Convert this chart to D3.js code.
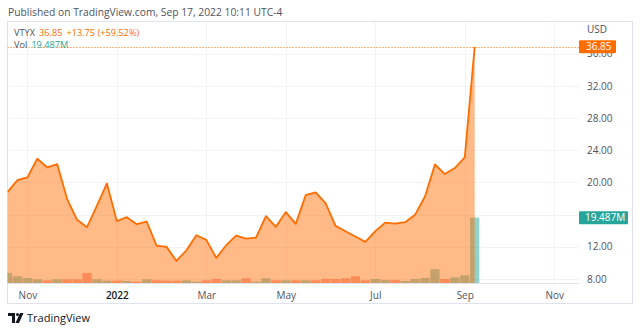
<!DOCTYPE html>
<html>
<head>
<meta charset="utf-8">
<script src="https://cdn.jsdelivr.net/npm/d3@7"></script>
<style>
  html, body { margin: 0; padding: 0; background: #ffffff; }
  svg { display: block; font-family: "Open Sans", "Noto Sans", sans-serif; }
</style>
</head>
<body>
<div id="chart"></div>
<script>
// weekly bars for VTYX
const dates = [
  "2021-10-18", "2021-10-25", "2021-11-01", "2021-11-08", "2021-11-15", "2021-11-22", "2021-11-29",
  "2021-12-06", "2021-12-13", "2021-12-20", "2021-12-27", "2022-01-03", "2022-01-10", "2022-01-17",
  "2022-01-24", "2022-01-31", "2022-02-07", "2022-02-14", "2022-02-21", "2022-02-28", "2022-03-07",
  "2022-03-14", "2022-03-21", "2022-03-28", "2022-04-04", "2022-04-11", "2022-04-18", "2022-04-25",
  "2022-05-02", "2022-05-09", "2022-05-16", "2022-05-23", "2022-05-30", "2022-06-06", "2022-06-13",
  "2022-06-20", "2022-06-27", "2022-07-04", "2022-07-11", "2022-07-18", "2022-07-25", "2022-08-01",
  "2022-08-08", "2022-08-15", "2022-08-22", "2022-08-29", "2022-09-05", "2022-09-12"
];
const closes = [
  18.80, 20.29, 20.62, 22.94, 21.86, 22.28, 17.93, 15.35, 14.44, 17.13, 19.87, 15.19,
  15.68, 14.81, 15.14, 12.15, 11.99, 10.24, 11.57, 13.44, 12.86, 10.62, 12.20, 13.39,
  13.02, 13.14, 15.81, 14.48, 16.31, 14.85, 18.42, 18.75, 17.43, 14.60, 13.94, 13.27,
  12.61, 13.94, 15.01, 14.89, 15.06, 15.97, 18.25, 22.23, 21.04, 21.79, 23.10, 36.85
];
// volume in millions
const volumes = [
  3.0, 2.0, 1.5, 1.1, 0.8, 1.1, 1.1, 1.1, 3.0, 1.1, 0.7, 0.7,
  0.6, 0.4, 1.1, 0.8, 0.7, 0.7, 0.8, 0.4, 0.8, 1.2, 0.8, 0.8,
  1.4, 0.4, 1.4, 0.8, 0.8, 0.8, 0.8, 0.8, 1.2, 1.2, 1.4, 2.0,
  0.8, 1.2, 0.9, 0.9, 0.6, 1.2, 1.5, 4.1, 1.2, 1.7, 2.3, 19.487
];
// 1 = up week, 0 = down week
const volUp = [
  1, 1, 1, 1, 0, 1, 0, 0, 0, 1, 1, 0,
  1, 0, 1, 0, 0, 0, 1, 1, 0, 0, 1, 1,
  0, 1, 1, 0, 1, 0, 1, 0, 0, 0, 0, 0,
  0, 1, 1, 0, 1, 1, 1, 1, 0, 1, 1, 1
];
const priceTicks = [8, 12, 20, 24, 28, 32, 36];
const priceGrid = [8, 12, 16, 20, 24, 28, 32, 36];
const timeTicks = ["2021-11-01", "2022-01-03", "2022-03-07", "2022-05-02", "2022-07-04", "2022-09-05", "2022-11-07"];
const timeLabels = ["Nov", "2022", "Mar", "May", "Jul", "Sep", "Nov"];

const WIDTH = 640, HEIGHT = 333;
const frame = {left: 7.5, top: 21.5, right: 632.5, bottom: 303.5};
const plotRight = 579;
const plotBottom = 283;

const ORANGE = "#ff6d00";
const TEAL = "#26a69a";

let parseDate = d3.utcParse("%Y-%m-%d");
let data = dates.map((d, i) => ({date: parseDate(d), close: closes[i], vol: volumes[i], up: volUp[i]}));

let svg = d3.select("#chart")
    .append("svg")
    .attr("width", WIDTH)
    .attr("height", HEIGHT);

// scales
let x = d3.scaleUtc()
    .domain([parseDate("2021-10-18"), parseDate("2022-11-07")])
    .range([7.5, 7.5 + 55 * 9.94]);
let y = d3.scaleLinear()
    .domain([7.5, 40])
    .range([plotBottom, frame.top]);
let yVol = d3.scaleLinear()
    .domain([0, d3.max(volumes)])
    .range([plotBottom, plotBottom - (plotBottom - frame.top) * 0.25]);

// title
svg.append("text")
    .attr("x", 8)
    .attr("y", 15.5)
    .style("font-size", "10.3px")
    .style("fill", "#50535e")
    .text("Published on TradingView.com, Sep 17, 2022 10:11 UTC-4");

// frame
svg.append("rect")
    .attr("x", frame.left)
    .attr("y", frame.top)
    .attr("width", frame.right - frame.left)
    .attr("height", frame.bottom - frame.top)
    .attr("fill", "none")
    .attr("stroke", "#e0e3eb");

svg.append("clipPath")
    .attr("id", "plot-clip")
    .append("rect")
    .attr("x", frame.left)
    .attr("y", frame.top)
    .attr("width", plotRight - frame.left)
    .attr("height", plotBottom - frame.top);

let plot = svg.append("g").attr("clip-path", "url(#plot-clip)");

// grid lines
plot.append("g")
    .selectAll("line")
    .data(priceGrid)
    .enter()
    .append("line")
    .attr("x1", frame.left).attr("x2", plotRight)
    .attr("y1", d => Math.round(y(d)) + 0.5).attr("y2", d => Math.round(y(d)) + 0.5)
    .attr("stroke", "#f0f3fa");
plot.append("g")
    .selectAll("line")
    .data(timeTicks)
    .enter()
    .append("line")
    .attr("x1", d => Math.round(x(parseDate(d))) + 0.5).attr("x2", d => Math.round(x(parseDate(d))) + 0.5)
    .attr("y1", frame.top).attr("y2", plotBottom)
    .attr("stroke", "#f0f3fa");

// volume bars (drawn under the area)
let barW = 9.3;
plot.append("g")
    .selectAll("rect")
    .data(data)
    .enter()
    .append("rect")
    .attr("x", d => x(d.date) - barW / 2)
    .attr("y", d => yVol(d.vol))
    .attr("width", barW)
    .attr("height", d => plotBottom - yVol(d.vol))
    .attr("fill", d => d.up ? TEAL : "#ef5350")
    .attr("fill-opacity", 0.5);

// price area
let area = d3.area()
    .x(d => x(d.date))
    .y0(plotBottom)
    .y1(d => y(d.close));
plot.append("path")
    .datum(data)
    .attr("d", area)
    .attr("fill", ORANGE)
    .attr("fill-opacity", 0.47);

let line = d3.line()
    .x(d => x(d.date))
    .y(d => y(d.close));
plot.append("path")
    .datum(data)
    .attr("d", line)
    .attr("fill", "none")
    .attr("stroke", ORANGE)
    .attr("stroke-width", 1.8)
    .attr("stroke-linejoin", "round");

// last price dotted line
let last = data[data.length - 1];
plot.append("line")
    .attr("x1", frame.left).attr("x2", plotRight)
    .attr("y1", Math.round(y(last.close)) + 0.5).attr("y2", Math.round(y(last.close)) + 0.5)
    .attr("stroke", ORANGE)
    .attr("stroke-width", 1)
    .attr("stroke-dasharray", "1,2");

// x axis line
svg.append("line")
    .attr("x1", frame.left).attr("x2", plotRight)
    .attr("y1", plotBottom + 0.5).attr("y2", plotBottom + 0.5)
    .attr("stroke", "#e0e3eb");

// time axis
let xAxis = svg.append("g")
    .attr("transform", `translate(0, ${plotBottom})`)
    .call(d3.axisBottom(x)
        .tickValues(timeTicks.map(parseDate))
        .tickFormat((d, i) => timeLabels[i])
        .tickSize(0)
        .tickPadding(9));
xAxis.select(".domain").remove();
xAxis.selectAll("text")
    .style("font-size", "10px")
    .style("font-family", "'Open Sans', sans-serif")
    .style("fill", (d, i) => timeLabels[i] == "2022" ? "#131722" : "#50535e")
    .style("font-weight", (d, i) => timeLabels[i] == "2022" ? "600" : "400");

// price axis (36.00 sits partly under the price badge, as in the original)
let yAxis = svg.append("g")
    .attr("transform", `translate(${plotRight}, 0)`)
    .call(d3.axisRight(y)
        .tickValues(priceTicks)
        .tickFormat(d3.format(".2f"))
        .tickSize(0)
        .tickPadding(8));
yAxis.select(".domain").remove();
yAxis.selectAll("text")
    .style("font-size", "10px")
    .style("font-family", "'Open Sans', sans-serif")
    .style("fill", "#50535e");

svg.append("text")
    .attr("x", plotRight + 8)
    .attr("y", 33)
    .style("font-size", "10px")
    .style("fill", "#50535e")
    .text("USD");

// price badge
let badgeH = 13;
svg.append("rect")
    .attr("x", plotRight)
    .attr("y", y(last.close) - badgeH / 2)
    .attr("width", 37)
    .attr("height", badgeH)
    .attr("rx", 1)
    .attr("fill", ORANGE);
svg.append("text")
    .attr("x", plotRight + 7)
    .attr("y", y(last.close) + 3.6)
    .style("font-size", "10px")
    .style("fill", "#ffffff")
    .text(last.close.toFixed(2));

// volume badge
svg.append("rect")
    .attr("x", plotRight)
    .attr("y", yVol(last.vol) - badgeH / 2)
    .attr("width", 49)
    .attr("height", badgeH)
    .attr("rx", 1)
    .attr("fill", TEAL);
svg.append("text")
    .attr("x", plotRight + 6)
    .attr("y", yVol(last.vol) + 3.6)
    .style("font-size", "10px")
    .style("fill", "#ffffff")
    .text(last.vol.toFixed(3) + "M");

// legend, each piece placed after the previous one
let prev = data[data.length - 2];
let change = last.close - prev.close;
function legendRow(parts, yPos) {
    let cx = 14;
    parts.forEach(p => {
        let t = svg.append("text")
            .attr("x", cx)
            .attr("y", yPos)
            .style("font-size", "9.2px")
            .style("fill", p[1])
            .text(p[0]);
        cx += t.node().getComputedTextLength() + 4;
    });
}
legendRow([
    ["VTYX", "#50535e"],
    [last.close.toFixed(2), ORANGE],
    [`+${change.toFixed(2)} (+${(change / prev.close * 100).toFixed(2)}%)`, ORANGE]
], 35.8);
legendRow([
    ["Vol", "#50535e"],
    [last.vol.toFixed(3) + "M", TEAL]
], 48.4);

// tradingview logo and name
let logo = svg.append("g").attr("transform", "translate(8, 313)");
logo.append("path")
    .attr("d", "M0,0 H7 V10 H4 V3 H0 Z")
    .attr("fill", "#131722");
logo.append("circle")
    .attr("cx", 9.5).attr("cy", 1.5).attr("r", 1.5)
    .attr("fill", "#131722");
logo.append("path")
    .attr("d", "M12,0 H15.5 L11,10 H7.5 Z")
    .attr("fill", "#131722");
svg.append("text")
    .attr("x", 27)
    .attr("y", 322)
    .style("font-size", "11px")
    .style("fill", "#131722")
    .text("TradingView");
</script>
</body>
</html>
